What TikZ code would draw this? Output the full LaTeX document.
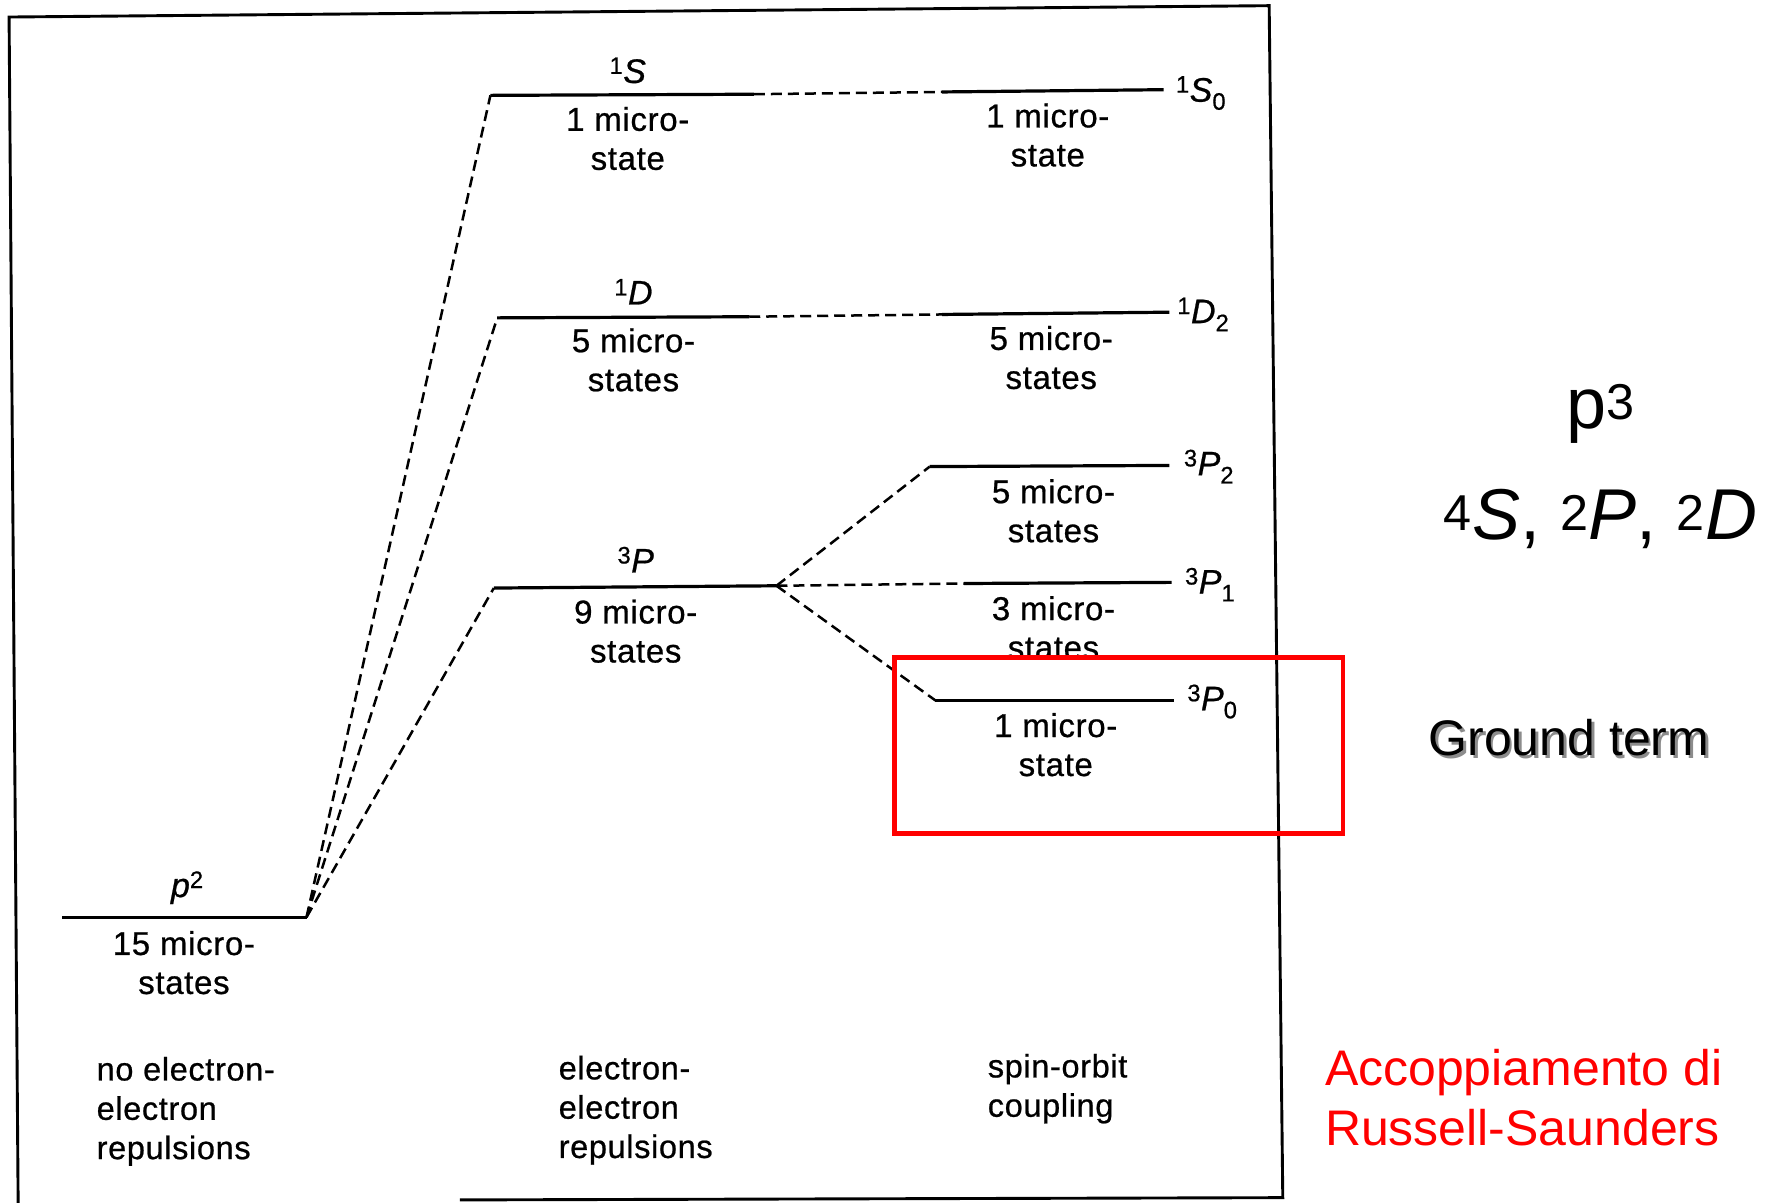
\documentclass[tikz,border=0pt]{standalone}
\usepackage{fontspec}
\setmainfont{Liberation Sans}
\newfontfamily\scanfont{Liberation Sans}[FakeBold=0.7,LetterSpace=2]
\begin{document}
\begin{tikzpicture}[x=1.1352pt,y=-1.1352pt,
  lvl/.style={line width=3.2pt},
  dsh/.style={line width=2.5pt, dash pattern=on 11pt off 6pt},
  frm/.style={line width=2.9pt, line join=miter},
  lab/.style={font=\scanfont\fontsize{33}{39}\selectfont, align=center, inner sep=0pt},
  term/.style={font=\scanfont\fontsize{34}{40}\selectfont, inner sep=0pt},
  bot/.style={font=\scanfont\fontsize{32.5}{39.3}\selectfont, align=left, anchor=west, inner sep=0pt},
  big/.style={font=\fontsize{72}{80}\selectfont, inner sep=0pt},
  redtxt/.style={font=\fontsize{50}{60}\selectfont, align=left, anchor=west, inner sep=0pt, text=red}]
\useasboundingbox (0,0) rectangle (1568,1059);
% frame
\draw[frm] (405,1057) -- (1130,1055) -- (1118,5) -- (8,15) -- (16,1062);
% level coordinates
\coordinate (p2a) at (55,808);  \coordinate (p2b) at (270,808);
\coordinate (s1a) at (432,84);  \coordinate (s1b) at (664,83);
\coordinate (s1c) at (830,81);  \coordinate (s1d) at (1025,79);
\coordinate (d1a) at (438,280); \coordinate (d1b) at (660,279);
\coordinate (d1c) at (830,277); \coordinate (d1d) at (1030,275);
\coordinate (p3a) at (435,518); \coordinate (p3b) at (684,516);
\coordinate (p32a) at (819,411); \coordinate (p32b) at (1030,410);
\coordinate (p31a) at (849,514); \coordinate (p31b) at (1032,513);
\coordinate (p30a) at (824,617); \coordinate (p30b) at (1034,617);
% levels and connectors
\draw[lvl] (p2a) -- (p2b);
\draw[dsh] (p2b) -- (s1a);
\draw[dsh] (p2b) -- (d1a);
\draw[dsh] (p2b) -- (p3a);
\draw[lvl] (s1a) -- (s1b); \draw[dsh] (s1b) -- (s1c); \draw[lvl] (s1c) -- (s1d);
\draw[lvl] (d1a) -- (d1b); \draw[dsh] (d1b) -- (d1c); \draw[lvl] (d1c) -- (d1d);
\draw[lvl] (p3a) -- (p3b);
\draw[dsh] (p3b) -- (p32a); \draw[lvl] (p32a) -- (p32b);
\draw[dsh] (p3b) -- (p31a); \draw[lvl] (p31a) -- (p31b);
\draw[dsh] (p3b) -- (p30a); \draw[lvl] (p30a) -- (p30b);
% term labels above levels
\node[term] (tp2) at (165,782) {{\itshape p}\textsuperscript{2}};
\node[term] (ts1) at (553,62) {\textsuperscript{1}{\itshape S}};
\node[term] (td1) at (558,257) {\textsuperscript{1}{\itshape D}};
\node[term] (tp3) at (560,493) {\textsuperscript{3}{\itshape P}};
% right term labels
\node[term] (ts10) at (1058,82) {\textsuperscript{1}{\itshape S}\textsubscript{0}};
\node[term] (td12) at (1060,277) {\textsuperscript{1}{\itshape D}\textsubscript{2}};
\node[term] (tp32) at (1065,411) {\textsuperscript{3}{\itshape P}\textsubscript{2}};
\node[term] (tp31) at (1066,515) {\textsuperscript{3}{\itshape P}\textsubscript{1}};
\node[term] (tp30) at (1068,618) {\textsuperscript{3}{\itshape P}\textsubscript{0}};
% microstate counts
\node[lab] (m15) at (162,848) {15 micro-\\states};
\node[lab] (m1s) at (553,122) {1 micro-\\state};
\node[lab] (m1s0) at (923,119) {1 micro-\\state};
\node[lab] (m5d) at (558,317) {5 micro-\\states};
\node[lab] (m5d2) at (926,315) {5 micro-\\states};
\node[lab] (m9p) at (560,556) {9 micro-\\states};
\node[lab] (m5p2) at (928,450) {5 micro-\\states};
\node[lab] (m3p1) at (928,553) {3 micro-\\states};
\node[lab] (m1p0) at (930,656) {1 micro-\\state};
% bottom captions
\node[bot] (c1) at (85,979) {no electron-\\electron\\repulsions};
\node[bot] (c2) at (492,978) {electron-\\electron\\repulsions};
\node[bot] (c3) at (870,959) {spin-orbit\\coupling};
% red box
\draw[red, line width=4.5pt] (788,579) rectangle (1183,734);
% right side
\node[big] (p3) at (1410,365) {p\textsuperscript{3}};
\node[big] (terms) at (1410,457) {\textsuperscript{4}{\itshape S}, \textsuperscript{2}{\itshape P}, \textsuperscript{2}{\itshape D}};
\node[font=\fontsize{50}{60}\selectfont, inner sep=0pt, text=black!45] at (1384.5,652.5) {Ground term};
\node[font=\fontsize{50}{60}\selectfont, inner sep=0pt] (gt) at (1382,650) {Ground term};
\node[redtxt] (rs) at (1167,967) {Accoppiamento di\\Russell-Saunders};
\end{tikzpicture}
\end{document}
